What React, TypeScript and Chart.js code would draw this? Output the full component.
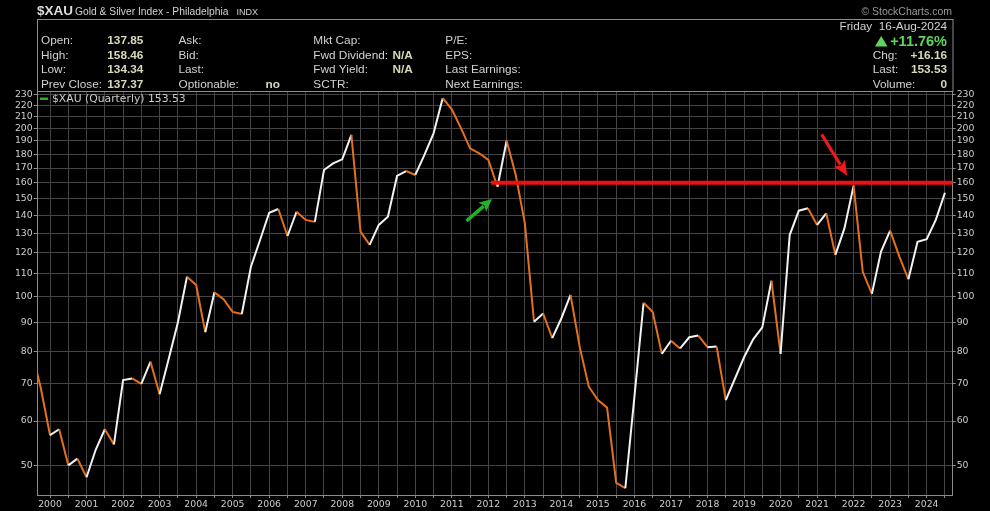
import React, { useEffect, useRef } from "react";
import { Chart, registerables } from "chart.js";

Chart.register(...registerables);

// ---------- DATA ----------
// Quarter index 0 = Q1 2000; first value is Q3 1999 (index -2)
const firstQuarterIndex = -2;
const xauQuarterly = [
  80.0, 68.6,
  56.6, 58.0, 50.0, 51.4,
  47.6, 53.3, 58.0, 54.5,
  71.0, 71.5, 69.9, 76.6,
  67.0, 77.5, 90.0, 108.7,
  105.0, 86.5, 101.9, 99.1,
  94.0, 93.2, 113.2, 126.4,
  141.4, 143.6, 128.5, 142.0,
  137.3, 136.2, 168.6, 173.3,
  176.2, 194.8, 130.8, 123.9,
  134.5, 139.1, 164.5, 167.9,
  165.2, 179.5, 196.1, 226.6,
  216.4, 200.3, 184.3, 180.6,
  175.7, 157.4, 190.2, 165.2,
  135.4, 90.3, 93.4, 84.4,
  91.6, 100.8, 81.5, 69.1,
  65.4, 63.4, 46.5, 45.5,
  66.4, 97.6, 94.0, 79.1,
  83.5, 80.9, 84.7, 85.3,
  81.3, 81.5, 65.4, 71.4,
  78.0, 84.0, 88.2, 106.9,
  79.1, 129.0, 142.6, 144.0,
  134.5, 141.1, 118.9, 132.7,
  158.1, 110.9, 101.3, 120.5,
  131.4, 118.2, 107.5, 125.5,
  126.8, 137.3, 153.53,
];
const yearLabels = [
  "2000", "2001", "2002", "2003", "2004", "2005", "2006", "2007", "2008",
  "2009", "2010", "2011", "2012", "2013", "2014", "2015", "2016", "2017",
  "2018", "2019", "2020", "2021", "2022", "2023", "2024",
];
const yTickValues = [50, 60, 70, 80, 90, 100, 110, 120, 130, 140, 150, 160, 170, 180, 190, 200, 210, 220, 230];
const resistanceLevel = 160;
const resistanceStartQuarter = 48.3;
// annotation arrows in data coordinates [quarterIndex, value]
const greenArrow = { from: [45.6, 136.7], to: [48.4, 149.7] };
const redArrow = { from: [84.5, 195.3], to: [87.3, 164.6] };

// ---------- STYLE ----------
const X_MIN = -1.35;
const X_MAX = 98.85;
const Y_MIN = 44.25;
const Y_MAX = 233.4;
const UP = "#f2f2f2";
const DOWN = "#e4701e";
const GRID = "#444444";
const AXIS = "#8c8c8c";
const TICK_TXT = "#cccccc";
const LBL = "#d2d2d2";
const VAL = "#d8d8b8";
const SANS = "'Liberation Sans', Arial, sans-serif";
const VSANS = "'DejaVu Sans', Verdana, sans-serif";

const points = xauQuarterly.map((v, i) => ({ x: firstQuarterIndex + i, y: v }));

const headerPlugin = {
  id: "header",
  beforeDraw(chart: any) {
    const ctx = chart.ctx as CanvasRenderingContext2D;
    ctx.save();
    ctx.fillStyle = "#000";
    ctx.fillRect(0, 0, chart.width, chart.height);
    ctx.restore();
  },
  afterDraw(chart: any) {
    const ctx = chart.ctx as CanvasRenderingContext2D;
    const area = chart.chartArea;
    ctx.save();
    ctx.textBaseline = "middle";
    // Title
    ctx.fillStyle = "#dcdcdc";
    ctx.textAlign = "left";
    ctx.font = `bold 13.5px ${SANS}`;
    ctx.fillText("$XAU", 37, 11.5);
    ctx.font = `10.3px ${SANS}`;
    ctx.fillStyle = "#d2d2d2";
    ctx.fillText("Gold & Silver Index - Philadelphia", 75, 12);
    ctx.font = `9px ${SANS}`;
    ctx.fillText("INDX", 236.5, 12.5);
    // copyright
    ctx.textAlign = "right";
    ctx.fillStyle = "#9a9a9a";
    ctx.font = `10.5px ${SANS}`;
    ctx.fillText("\u00A9 StockCharts.com", 952, 12);

    // header box
    ctx.strokeStyle = AXIS;
    ctx.lineWidth = 1;
    ctx.strokeRect(Math.round(area.left) - 0.5, 19.5, Math.round(area.right - area.left) + 0.5, 72);

    const rows = [41, 55.5, 70, 84.5];
    const cols: { x: number; labels: string[] }[] = [
      { x: 41, labels: ["Open:", "High:", "Low:", "Prev Close:"] },
      { x: 178.5, labels: ["Ask:", "Bid:", "Last:", "Optionable:"] },
      { x: 313.3, labels: ["Mkt Cap:", "Fwd Dividend:", "Fwd Yield:", "SCTR:"] },
      { x: 445.3, labels: ["P/E:", "EPS:", "Last Earnings:", "Next Earnings:"] },
    ];
    ctx.textAlign = "left";
    ctx.font = `11.8px ${SANS}`;
    ctx.fillStyle = LBL;
    cols.forEach((c) => c.labels.forEach((t, i) => ctx.fillText(t, c.x, rows[i])));
    ctx.font = `bold 11.8px ${SANS}`;
    ctx.fillStyle = VAL;
    ["137.85", "158.46", "134.34", "137.37"].forEach((t, i) => ctx.fillText(t, 107.3, rows[i]));
    ctx.fillText("no", 265.5, rows[3]);
    ctx.fillText("N/A", 392.5, rows[1]);
    ctx.fillText("N/A", 392.5, rows[2]);

    // right column
    ctx.textAlign = "right";
    ctx.font = `11.8px ${SANS}`;
    ctx.fillStyle = LBL;
    ctx.fillText("Friday  16-Aug-2024", 947, 26.5);
    ctx.textAlign = "left";
    ctx.fillText("Chg:", 872.7, rows[1]);
    ctx.fillText("Last:", 872.7, rows[2]);
    ctx.fillText("Volume:", 872.7, rows[3]);
    ctx.textAlign = "right";
    ctx.font = `bold 11.8px ${SANS}`;
    ctx.fillStyle = VAL;
    ctx.fillText("+16.16", 947, rows[1]);
    ctx.fillText("153.53", 947, rows[2]);
    ctx.fillText("0", 947, rows[3]);
    // percent change
    ctx.fillStyle = "#5cd65c";
    ctx.font = `bold 14.5px ${SANS}`;
    ctx.fillText("+11.76%", 947, 41.5);
    ctx.beginPath();
    ctx.moveTo(875, 46.5);
    ctx.lineTo(887.5, 46.5);
    ctx.lineTo(881.25, 36);
    ctx.closePath();
    ctx.fill();

    // legend
    ctx.fillStyle = "#2eaa2e";
    ctx.fillRect(40, 97.5, 8, 2.5);
    ctx.textAlign = "left";
    ctx.fillStyle = "#cccccc";
    ctx.font = `10.8px ${VSANS}`;
    ctx.fillText("$XAU (Quarterly) 153.53", 52, 99);
    ctx.restore();
  },
};

function drawArrow(
  ctx: CanvasRenderingContext2D,
  x0: number, y0: number, x1: number, y1: number,
  color: string, shaftW: number, headLen: number, headW: number
) {
  const ang = Math.atan2(y1 - y0, x1 - x0);
  const bx = x1 - headLen * Math.cos(ang);
  const by = y1 - headLen * Math.sin(ang);
  ctx.strokeStyle = color;
  ctx.fillStyle = color;
  ctx.lineWidth = shaftW;
  ctx.lineCap = "butt";
  ctx.beginPath();
  ctx.moveTo(x0, y0);
  ctx.lineTo(bx + 2 * Math.cos(ang), by + 2 * Math.sin(ang));
  ctx.stroke();
  const sx = Math.sin(ang), cx = Math.cos(ang);
  ctx.beginPath();
  ctx.moveTo(x1, y1);
  ctx.lineTo(bx + (headW / 2) * sx, by - (headW / 2) * cx);
  ctx.lineTo(bx + 3 * cx, by + 3 * sx);
  ctx.lineTo(bx - (headW / 2) * sx, by + (headW / 2) * cx);
  ctx.closePath();
  ctx.fill();
}

const arrowPlugin = {
  id: "arrows",
  afterDatasetsDraw(chart: any) {
    const ctx = chart.ctx as CanvasRenderingContext2D;
    const xs = chart.scales.x;
    const ys = chart.scales.y;
    const px = (p: number[]) => [xs.getPixelForValue(p[0]), ys.getPixelForValue(p[1])];
    ctx.save();
    const g0 = px(greenArrow.from), g1 = px(greenArrow.to);
    drawArrow(ctx, g0[0], g0[1], g1[0], g1[1], "#22b422", 3.5, 13, 12);
    const r0 = px(redArrow.from), r1 = px(redArrow.to);
    drawArrow(ctx, r0[0], r0[1], r1[0], r1[1], "#ee1a1a", 3.2, 15, 13);
    ctx.restore();
  },
};

export default function App() {
  const ref = useRef<HTMLCanvasElement | null>(null);
  useEffect(() => {
    document.body.style.margin = "0";
    document.body.style.background = "#000";
    const canvas = ref.current;
    if (!canvas) return;
    const xTicks: number[] = [];
    for (let q = 0; q <= 98; q += 2) xTicks.push(q);

    const yAxisCommon = (position: "left" | "right", width: number, onArea: boolean, tickLen: number) => ({
      type: "logarithmic" as const,
      position,
      min: Y_MIN,
      max: Y_MAX,
      afterBuildTicks: (s: any) => {
        s.ticks = yTickValues.map((v) => ({ value: v }));
      },
      afterFit: (s: any) => {
        s.width = width;
      },
      ticks: {
        autoSkip: false,
        color: TICK_TXT,
        padding: 1,
        font: { family: VSANS, size: 9.3 },
        callback: (v: any) => String(v),
      },
      grid: {
        color: GRID,
        lineWidth: 1,
        drawOnChartArea: onArea,
        drawTicks: true,
        tickLength: tickLen,
        tickColor: AXIS,
      },
      border: { color: AXIS, width: 1 },
    });

    const chart = new Chart(canvas, {
      type: "line",
      data: {
        datasets: [
          {
            label: "resistance",
            data: [
              { x: resistanceStartQuarter, y: resistanceLevel },
              { x: X_MAX, y: resistanceLevel },
            ],
            borderColor: "#ee1111",
            borderWidth: 4,
            pointRadius: 0,
            clip: 0,
          } as any,
          {
            label: "$XAU (Quarterly)",
            data: points,
            borderColor: UP,
            borderWidth: 2,
            pointRadius: 0,
            tension: 0,
            clip: 0,
            segment: {
              borderColor: (c: any) => (c.p1.parsed.y >= c.p0.parsed.y ? UP : DOWN),
            },
          } as any,
        ],
      },
      options: {
        responsive: false,
        animation: false,
        events: [],
        layout: { padding: { top: 91, left: 0, right: 0, bottom: 0 } },
        plugins: {
          legend: { display: false },
          tooltip: { enabled: false },
        },
        scales: {
          x: {
            type: "linear",
            min: X_MIN,
            max: X_MAX,
            afterBuildTicks: (s: any) => {
              s.ticks = xTicks.map((v) => ({ value: v }));
            },
            afterFit: (s: any) => {
              s.height = 16;
            },
            ticks: {
              autoSkip: false,
              maxRotation: 0,
              color: TICK_TXT,
              padding: 1,
              font: { family: VSANS, size: 9.3 },
              callback: (v: any) => (Number(v) % 4 === 0 ? yearLabels[Number(v) / 4] ?? "" : ""),
            },
            grid: { color: GRID, lineWidth: 1, drawTicks: true, tickLength: 3, tickColor: AXIS },
            border: { color: AXIS, width: 1 },
          },
          y: yAxisCommon("left", 37.7, true, 4) as any,
          y2: yAxisCommon("right", 37.3, false, 3) as any,
        },
      } as any,
      plugins: [headerPlugin, arrowPlugin],
    });
    return () => chart.destroy();
  }, []);
  return (
    <canvas
      ref={ref}
      width={990}
      height={511}
      style={{ display: "block", width: "990px", height: "511px", background: "#000" }}
    />
  );
}
